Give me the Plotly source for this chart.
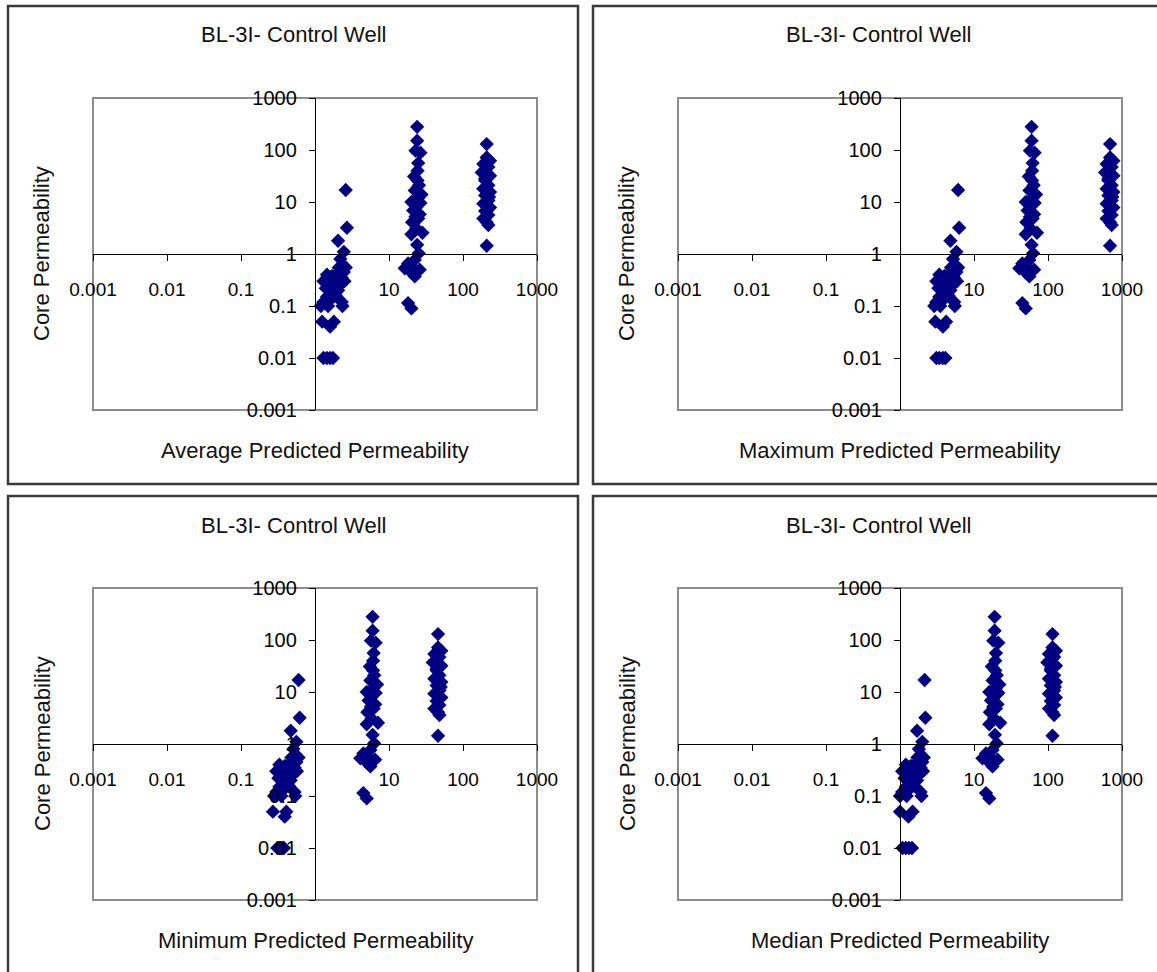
import plotly.graph_objects as go

# ---------------- data ----------------
core_perm = [
    17, 3.2, 1.8, 1.1, 0.8, 0.55, 0.45, 0.42, 0.4, 0.38, 0.35, 0.3, 0.28, 0.3, 0.25, 0.22, 0.2, 0.2,
    0.15, 0.16, 0.12, 0.13, 0.12, 0.1, 0.1, 0.1, 0.05, 0.04, 0.05, 0.01, 0.01, 0.01, 0.01, 0.3, 0.55,
    279, 151, 97, 89, 56, 40, 31, 21, 14, 12, 10, 9.6, 8, 6.9, 5.8, 5.2, 4.1, 4.8, 2.56, 2.4, 1.5,
    1.03, 0.77, 0.66, 0.53, 0.53, 0.5, 0.37, 0.44, 0.114, 0.09, 26, 16.7, 3.1,
    130, 72, 62, 54, 47, 37, 32, 28, 21, 18, 15.5, 13.4, 10.7, 9.3, 7.8, 6.7, 5.6, 4.8, 4.1, 3.6,
    1.44, 26, 12.5,
]

avg_pred = [
    2.6, 2.7, 2.05, 2.45, 2.2, 2.6, 2.45, 2.0, 1.45, 1.7, 2.3, 1.3, 1.55, 1.9, 2.15, 1.4, 1.7, 2.05,
    1.45, 1.9, 1.3, 1.6, 2.3, 1.2, 1.5, 2.35, 1.25, 1.6, 1.8, 1.3, 1.45, 1.6, 1.75, 2.5, 2.1,
    24, 24, 22.8, 26.6, 24.8, 24.3, 21.8, 25.4, 27.5, 24.8, 20.1, 26.6, 23.4, 21.2, 26, 22.8, 20.5,
    24.8, 28.3, 20.1, 24, 25.2, 22.3, 18.1, 21.2, 16.3, 26, 22.3, 20.1, 18.1, 20.1, 24.3, 22.3, 23.4,
    209, 209, 232, 188, 220, 179, 232, 199, 220, 188, 232, 199, 220, 188, 232, 199, 220, 188, 209,
    220, 209, 199, 225,
]

max_pred = [
    6.1, 6.3, 4.8, 5.8, 5.2, 6.1, 5.8, 4.7, 3.4, 4.0, 5.4, 3.1, 3.6, 4.5, 5.1, 3.3, 4.0, 4.8,
    3.4, 4.5, 3.1, 3.8, 5.4, 2.9, 3.5, 5.5, 3.0, 3.8, 4.2, 3.1, 3.4, 3.8, 4.1, 5.9, 4.9,
    60, 60, 57, 66, 62, 61, 55, 64, 69, 62, 50, 66, 58, 53, 65, 57, 51,
    62, 71, 50, 60, 63, 56, 45, 53, 41, 65, 56, 50, 45, 50, 61, 56, 58,
    690, 690, 765, 620, 725, 590, 765, 655, 725, 620, 765, 655, 725, 620, 765, 655, 725, 620, 690,
    725, 690, 655, 740,
]

min_pred = [
    0.6, 0.62, 0.47, 0.56, 0.51, 0.6, 0.56, 0.46, 0.33, 0.39, 0.53, 0.3, 0.36, 0.44, 0.49, 0.32, 0.39, 0.47,
    0.33, 0.44, 0.3, 0.37, 0.53, 0.28, 0.35, 0.54, 0.27, 0.39, 0.41, 0.31, 0.33, 0.36, 0.38, 0.57, 0.48,
    6.0, 6.0, 5.7, 6.6, 6.2, 6.1, 5.5, 6.3, 6.9, 6.2, 5.0, 6.6, 5.8, 5.3, 6.5, 5.7, 5.1,
    6.2, 7.1, 5.0, 6.0, 6.3, 5.6, 4.5, 5.3, 4.1, 6.5, 5.6, 5.0, 4.5, 5.0, 6.1, 5.6, 5.8,
    46, 46, 51, 41, 48, 39, 51, 44, 48, 41, 51, 44, 48, 41, 51, 44, 48, 41, 46,
    48, 46, 44, 50,
]

median_pred = [
    2.15, 2.2, 1.7, 2.0, 1.8, 2.1, 2.0, 1.65, 1.2, 1.4, 1.9, 1.07, 1.27, 1.55, 1.75, 1.15, 1.4, 1.7,
    1.2, 1.55, 1.07, 1.3, 1.9, 1.0, 1.23, 1.95, 1.0, 1.3, 1.48, 1.08, 1.2, 1.32, 1.45, 2.05, 1.72,
    19, 19, 18.2, 21.3, 19.8, 19.4, 17.4, 20.3, 22, 19.8, 16.1, 21.3, 18.7, 17, 20.8, 18.2, 16.4,
    19.8, 22.6, 16.1, 19.2, 20.2, 17.8, 14.5, 17, 13, 20.8, 17.8, 16.1, 14.5, 16.1, 19.4, 17.8, 18.7,
    115, 115, 128, 103, 121, 98, 128, 109, 121, 103, 128, 109, 121, 103, 128, 109, 121, 103, 115,
    121, 115, 109, 124,
]

chart_title = "BL-3I- Control Well"
y_title = "Core Permeability"
x_titles = ["Average Predicted Permeability", "Maximum Predicted Permeability",
            "Minimum Predicted Permeability", "Median Predicted Permeability"]
x_series = [avg_pred, max_pred, min_pred, median_pred]

x_tickvals = [0.001, 0.01, 0.1, 10, 100, 1000]
x_ticktext = ["0.001", "0.01", "0.1", "10", "100", "1000"]
y_tickvals = [0.001, 0.01, 0.1, 1, 10, 100, 1000]
y_ticktext = ["0.001", "0.01", "0.1", "1", "10", "100", "1000"]

# ---------------- layout geometry (page pixels) ----------------
W, H = 1157, 972
box_lefts = [8, 593]
box_tops = [6, 496]
BOX_W, BOX_H = 570, 478
PA_LEFT, PA_TOP, PA_W, PA_H = 85, 92, 444, 312

FONT = "Liberation Sans, Arial, sans-serif"
MARKER_COLOR = "#000080"


def fx(px):
    return px / W


def fy(py):
    return 1 - py / H


fig = go.Figure()
shapes = []
annotations = []
layout_axes = {}

for i in range(4):
    row, col = divmod(i, 2)
    bl, bt = box_lefts[col], box_tops[row]
    pl, pt = bl + PA_LEFT, bt + PA_TOP
    pr, pb = pl + PA_W, pt + PA_H
    xmid = pl + PA_W / 2  # x = 1 on log axis (middle of -3..3)
    ymid = pt + PA_H / 2  # y = 1

    sfx = "" if i == 0 else str(i + 1)
    xname, yname = "x" + sfx, "y" + sfx

    fig.add_trace(go.Scatter(
        x=x_series[i], y=core_perm, mode="markers",
        marker=dict(symbol="diamond", size=11, color=MARKER_COLOR,
                    line=dict(width=0)),
        xaxis=xname, yaxis=yname, showlegend=False, cliponaxis=False,
    ))

    layout_axes["xaxis" + sfx] = dict(
        type="log", range=[-3, 3], domain=[fx(pl), fx(pr)],
        anchor="free", position=fy(ymid),
        tickvals=x_tickvals, ticktext=x_ticktext,
        ticks="outside", ticklen=6, tickwidth=1, tickcolor="black",
        showline=True, linecolor="black", linewidth=1.3,
        showgrid=False, zeroline=False,
        tickfont=dict(family=FONT, size=19, color="black"),
        ticklabelstandoff=12, fixedrange=True,
    )
    layout_axes["yaxis" + sfx] = dict(
        type="log", range=[-3, 3], domain=[fy(pb), fy(pt)],
        anchor="free", position=fx(xmid),
        tickvals=y_tickvals, ticktext=y_ticktext,
        ticks="outside", ticklen=6, tickwidth=1, tickcolor="black",
        showline=True, linecolor="black", linewidth=1.3,
        showgrid=False, zeroline=False,
        tickfont=dict(family=FONT, size=20, color="black"),
        ticklabelstandoff=8, fixedrange=True,
    )

    # outer chart border
    shapes.append(dict(type="rect", xref="paper", yref="paper",
                       x0=fx(bl), x1=fx(bl + BOX_W), y0=fy(bt + BOX_H), y1=fy(bt),
                       line=dict(color="#3a3a3a", width=2.5), layer="below"))
    # plot area border
    shapes.append(dict(type="rect", xref="paper", yref="paper",
                       x0=fx(pl), x1=fx(pr), y0=fy(pb), y1=fy(pt),
                       line=dict(color="#8c8c8c", width=2), layer="below"))

    annotations.append(dict(text=chart_title, xref="paper", yref="paper",
                            x=fx(bl + BOX_W / 2), y=fy(bt + 29), showarrow=False,
                            xanchor="center", yanchor="middle",
                            font=dict(family=FONT, size=22, color="#111")))
    annotations.append(dict(text=x_titles[i], xref="paper", yref="paper",
                            x=fx(xmid), y=fy(bt + 444), showarrow=False,
                            xanchor="center", yanchor="middle",
                            font=dict(family=FONT, size=22, color="#111")))
    annotations.append(dict(text=y_title, xref="paper", yref="paper",
                            x=fx(bl + 34), y=fy(ymid), showarrow=False, textangle=-90,
                            xanchor="center", yanchor="middle",
                            font=dict(family=FONT, size=22, color="#111")))

fig.update_layout(
    width=W, height=H,
    margin=dict(l=0, r=0, t=0, b=0, pad=0, autoexpand=False),
    paper_bgcolor="white", plot_bgcolor="rgba(0,0,0,0)",
    shapes=shapes, annotations=annotations, showlegend=False,
    **layout_axes,
)

fig.write_html(
    "out.html",
    config={"displayModeBar": False},
    post_script="document.body.style.margin='0';document.body.style.overflow='hidden';",
)
